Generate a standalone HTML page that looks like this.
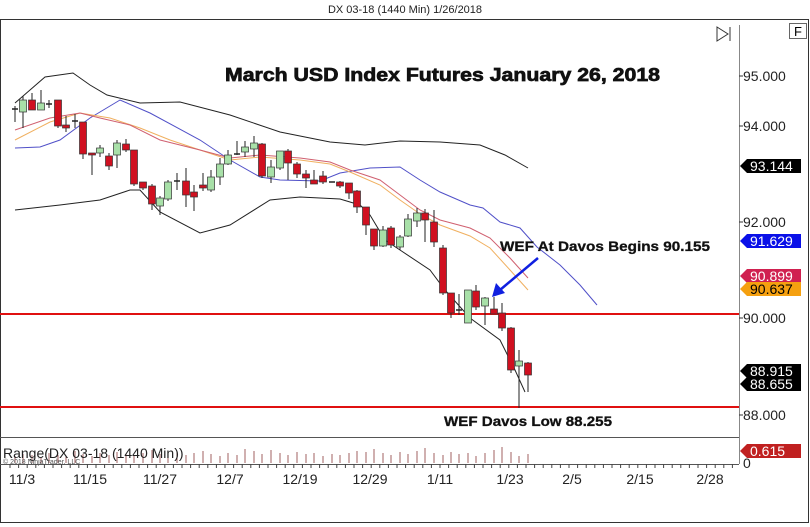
<!DOCTYPE html>
<html><head><meta charset="utf-8"><style>
html,body{margin:0;padding:0;background:#fff;width:810px;height:527px;overflow:hidden}
svg{display:block;font-family:"Liberation Sans",Arial,sans-serif}
</style></head><body>
<svg id="s" width="810" height="527" viewBox="0 0 810 527" xmlns="http://www.w3.org/2000/svg">
<rect x="0" y="0" width="810" height="527" fill="#fff"/>
<text x="405" y="13" font-size="11" text-anchor="middle" fill="#222">DX 03-18 (1440 Min)  1/26/2018</text>
<rect x="0.5" y="19.5" width="808" height="503" fill="none" stroke="#333" stroke-width="1"/>
<line x1="0" y1="437.5" x2="739" y2="437.5" stroke="#555"/>
<line x1="739.5" y1="25" x2="739.5" y2="464" stroke="#888"/>
<line x1="0" y1="464.5" x2="739" y2="464.5" stroke="#555"/>
<rect x="789.5" y="23.5" width="17" height="15" fill="#fff" stroke="#666"/>
<text x="798" y="36" font-size="13" text-anchor="middle">F</text>
<path d="M717 27 L728 34 L717 41 Z M730 27 V41" fill="none" stroke="#333"/>
<g font-size="14" fill="#222">
<text x="743" y="81">95.000</text><line x1="739" y1="76" x2="743" y2="76" stroke="#333"/>
<text x="743" y="131">94.000</text><line x1="739" y1="126" x2="743" y2="126" stroke="#333"/>
<text x="743" y="227">92.000</text><line x1="739" y1="222" x2="743" y2="222" stroke="#333"/>
<text x="743" y="323">90.000</text><line x1="739" y1="318" x2="743" y2="318" stroke="#333"/>
<text x="743" y="420">88.000</text><line x1="739" y1="415" x2="743" y2="415" stroke="#333"/>
<text x="743" y="468">0</text>
</g>
<g id="vol"></g>
<g id="ticks"></g>
<g font-size="14" fill="#222" text-anchor="middle">
<text x="22" y="484">11/3</text><text x="90" y="484">11/15</text><text x="160" y="484">11/27</text>
<text x="230" y="484">12/7</text><text x="300" y="484">12/19</text><text x="370" y="484">12/29</text>
<text x="440" y="484">1/11</text><text x="510" y="484">1/23</text><text x="572" y="484">2/5</text>
<text x="640" y="484">2/15</text><text x="710" y="484">2/28</text>
</g>
<text x="3" y="458" font-size="14" fill="#222">Range(DX 03-18 (1440 Min))</text>
<text x="3" y="464" font-size="7" fill="#555">© 2018 NinjaTrader, LLC</text>
<line x1="0" y1="314" x2="739" y2="314" stroke="#e01010" stroke-width="2"/>
<line x1="0" y1="407" x2="739" y2="407" stroke="#e01010" stroke-width="2"/>
<g fill="none" stroke-width="1">
<polyline stroke="#222" points="15,103 30,90 45,77 73,73 90,85 107,95 140,103 180,102 230,115 280,132 330,142 365,145 400,141 440,142 480,145 505,155 528,168"/>
<polyline stroke="#222" points="15,210 60,205 100,200 130,190 140,190 160,212 200,233 230,225 270,200 300,197 340,199 360,205 370,215 385,240 400,250 430,270 445,290 470,318 500,340 515,370 525,392"/>
<polyline stroke="#5050c8" points="15,148 40,147 60,140 90,118 120,100 150,113 200,140 230,160 260,177 280,180 320,181 340,173 370,168 400,167 420,180 440,192 470,205 483,208 500,222 520,228 537,247 560,265 580,285 597,305"/>
<polyline stroke="#f0b060" points="15,140 50,122 80,113 110,118 140,128 170,140 200,150 230,160 260,157 300,160 330,164 350,172 380,185 400,200 420,214 440,225 470,236 490,248 510,270 528,290"/>
<polyline stroke="#d06070" points="15,130 50,118 80,113 100,118 130,125 160,140 200,150 230,158 260,155 300,158 330,162 350,170 380,180 400,195 420,210 440,220 470,228 490,238 510,258 528,278"/>
</g>
<g id="c"></g>
<text x="225" y="81" font-size="18" font-weight="bold" fill="#111" stroke="#111" stroke-width="0.7" textLength="435" lengthAdjust="spacingAndGlyphs">March USD Index Futures January 26, 2018</text>
<text x="500" y="251" font-size="14" font-weight="bold" fill="#111" stroke="#111" stroke-width="0.3" textLength="210" lengthAdjust="spacingAndGlyphs">WEF At Davos Begins 90.155</text>
<text x="444" y="426" font-size="14" font-weight="bold" fill="#111" stroke="#111" stroke-width="0.3" textLength="168" lengthAdjust="spacingAndGlyphs">WEF Davos Low 88.255</text>
<line x1="538" y1="258" x2="500" y2="290" stroke="#1020e0" stroke-width="2.5"/>
<path d="M492 297 L496 283 L505 293 Z" fill="#1020e0"/>
<g id="tags" font-size="14"></g>
</svg>
<script>
var NS="http://www.w3.org/2000/svg";
function el(p,t,a,tx){var e=document.createElementNS(NS,t);for(var k in a)e.setAttribute(k,a[k]);if(tx)e.textContent=tx;document.getElementById(p).appendChild(e);return e;}
var C=[[15,109,109,106,122,'d'],[23,100,112,96,128,'g'],[32,100,110,93,110,'r'],[41,103,110,90,110,'g'],[49,104,104,100,108,'d'],[58,100,126,100,128,'r'],[66,125,128,116,132,'r'],[75,121,121,114,128,'d'],[83,122,154,122,159,'r'],[92,153,155,153,175,'r'],[100,148,153,145,157,'g'],[109,156,166,153,170,'r'],[117,143,155,140,168,'g'],[126,144,150,139,152,'r'],[134,150,184,150,186,'r'],[143,182,188,182,190,'r'],[152,186,204,184,210,'r'],[160,198,206,196,215,'g'],[168,182,199,180,201,'g'],[177,181,181,173,190,'d'],[186,181,195,168,207,'r'],[194,192,197,185,211,'r'],[203,185,188,173,191,'r'],[211,177,190,170,192,'g'],[220,164,177,158,185,'g'],[228,155,164,150,165,'g'],[237,154,154,141,155,'d'],[245,147,152,141,157,'g'],[254,143,149,136,157,'g'],[262,144,176,143,178,'r'],[271,167,177,160,183,'g'],[280,151,168,151,170,'g'],[288,151,163,149,180,'r'],[297,164,174,162,178,'r'],[306,174,178,170,188,'r'],[314,180,184,170,184,'r'],[323,176,182,171,184,'r'],[332,182,182,182,182,'d'],[340,182,186,181,188,'r'],[349,183,193,183,199,'r'],[357,191,207,190,213,'r'],[366,207,225,207,235,'r'],[374,229,246,229,250,'r'],[383,230,246,226,247,'g'],[391,228,245,226,248,'r'],[400,237,247,235,250,'g'],[408,219,236,214,237,'g'],[417,213,221,208,227,'g'],[425,213,220,209,242,'r'],[434,222,242,210,247,'r'],[443,248,293,245,295,'r'],[451,293,313,293,318,'r'],[459,310,310,294,315,'d'],[468,290,323,290,323,'g'],[476,291,307,285,310,'r'],[485,298,306,297,325,'g'],[494,309,314,297,314,'r'],[502,313,328,303,331,'r'],[511,328,370,327,373,'r'],[519,361,366,350,408,'g'],[528,363,375,362,392,'r']];
var vh=[7,9,8,6,10,8,7,12,9,7,10,8,11,9,7,10,13,9,6,11,8,10,12,9,7,10,8,14,12,9,13,10,8,11,9,10,7,9,8,10,12,11,14,10,8,11,9,12,15,10,8,11,9,10,7,10,13,16,11];
for(var i=0;i<C.length;i++){var c=C[i];
 el('c','line',{x1:c[0],y1:c[3],x2:c[0],y2:c[4],stroke:'#222','stroke-width':1});
 if(c[5]=='d'){el('c','line',{x1:c[0]-3,y1:c[1],x2:c[0]+3,y2:c[1],stroke:'#222','stroke-width':1.5});}
 else el('c','rect',{x:c[0]-3.5,y:c[1],width:7,height:Math.max(2,c[2]-c[1]),fill:c[5]=='g'?'#a8e0a8':'#d01020',stroke:'#333','stroke-width':0.7});
 el('vol','line',{x1:c[0],y1:463,x2:c[0],y2:463-vh[i%vh.length],stroke:'#a06060','stroke-width':1});
}
for(var x=10;x<739;x+=8.6){el('ticks','line',{x1:x,y1:464,x2:x,y2:468,stroke:'#444'});}
var T=[[166,'#000','#fff','93.144'],[241,'#0a10e8','#fff','91.629'],[276,'#d02050','#fff','90.899'],[289,'#f5a010','#000','90.637'],[384,'#000','#fff','88.655'],[371,'#000','#fff','88.915'],[451,'#c02020','#fff','0.615']];
T.forEach(function(t){var y=t[0];el('tags','path',{d:'M740 '+y+' L747 '+(y-7)+' L801 '+(y-7)+' L801 '+(y+7)+' L747 '+(y+7)+' Z',fill:t[1]});
 el('tags','text',{x:750,y:y+5,fill:t[2]},t[3]);});
</script>
</body></html>
